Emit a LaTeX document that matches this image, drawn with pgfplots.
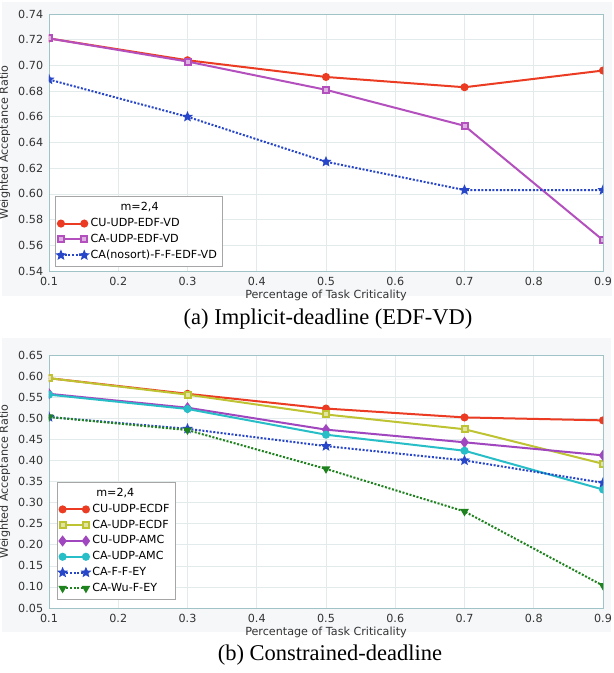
\documentclass[border=0pt]{standalone}
\usepackage{pgfplots}
\pgfplotsset{compat=1.18}
\usepackage{fontspec}
\setmainfont{DejaVu Sans}
\newfontfamily\capfont{Liberation Serif}

\definecolor{cuRed}{RGB}{235,60,35}
\definecolor{caMag}{RGB}{180,80,190}
\definecolor{nsBlue}{RGB}{40,70,200}
\definecolor{caOlive}{RGB}{190,195,50}
\definecolor{amcPurple}{RGB}{160,70,190}
\definecolor{amcCyan}{RGB}{40,190,200}
\definecolor{wuGreen}{RGB}{30,130,30}
\definecolor{frameC}{RGB}{160,195,200}
\definecolor{gridC}{RGB}{226,234,236}
\definecolor{panelC}{RGB}{246,247,249}

% filled five-point star, like matplotlib's '*'
\pgfdeclareplotmark{fstar}{%
  \pgfpathmoveto{\pgfpointpolar{90}{\pgfplotmarksize}}%
  \pgfpathlineto{\pgfpointpolar{126}{0.45*\pgfplotmarksize}}%
  \pgfpathlineto{\pgfpointpolar{162}{\pgfplotmarksize}}%
  \pgfpathlineto{\pgfpointpolar{198}{0.45*\pgfplotmarksize}}%
  \pgfpathlineto{\pgfpointpolar{234}{\pgfplotmarksize}}%
  \pgfpathlineto{\pgfpointpolar{270}{0.45*\pgfplotmarksize}}%
  \pgfpathlineto{\pgfpointpolar{306}{\pgfplotmarksize}}%
  \pgfpathlineto{\pgfpointpolar{342}{0.45*\pgfplotmarksize}}%
  \pgfpathlineto{\pgfpointpolar{18}{\pgfplotmarksize}}%
  \pgfpathlineto{\pgfpointpolar{54}{0.45*\pgfplotmarksize}}%
  \pgfpathclose
  \pgfusepathqfillstroke}

\newcommand{\smallfont}{\fontsize{6.7}{8}\selectfont}

\pgfplotsset{
  wa/.style={
    scale only axis,
    width=332.4pt,
    xmin=0.1, xmax=0.9,
    xtick={0.1,0.2,0.3,0.4,0.5,0.6,0.7,0.8,0.9},
    grid=major,
    grid style={gridC, line width=0.4pt},
    axis line style={frameC},
    tick style={draw=none},
    axis background/.style={fill=white},
    clip marker paths=true,
    /pgf/number format/assume math mode=true,
    tick label style={font=\smallfont, text=black!80},
    xticklabel style={/pgf/number format/.cd, fixed, fixed zerofill, precision=1},
    yticklabel style={/pgf/number format/.cd, fixed, fixed zerofill, precision=2},
    xlabel={Percentage of Task Criticality},
    ylabel={Weighted Acceptance Ratio},
    label style={font=\smallfont, text=black!80},
    xlabel style={yshift=4pt},
    ylabel style={yshift=-2pt},
    legend style={font=\smallfont, draw=gray!70, fill=white, inner sep=1.5pt,
      row sep=-1pt, legend cell align=left},
    legend image code/.code={
      \draw[mark repeat=2,mark phase=1,#1] plot coordinates {(0pt,0pt) (7pt,0pt) (14pt,0pt)};},
    every axis plot/.append style={line width=1.2pt, mark size=1.8pt},
  },
}

\begin{document}
\begin{tikzpicture}
\useasboundingbox (0pt,0pt) rectangle (367.8pt,-403.8pt);
\fill[panelC] (1pt,-1pt) rectangle (367pt,-177.6pt);
\fill[panelC] (1.2pt,-202.8pt) rectangle (366.6pt,-379.2pt);

% (a) implicit-deadline
\begin{axis}[wa,
  at={(29.4pt,-162.6pt)}, anchor=south west,
  height=154.2pt,
  ymin=0.54, ymax=0.74,
  ytick={0.54,0.56,0.58,0.60,0.62,0.64,0.66,0.68,0.70,0.72,0.74},
  legend style={at={(0.011,0.016)}, anchor=south west},
]
\addlegendimage{empty legend}
\addlegendentry{\hspace{18pt}m=2,4}
\addplot[cuRed, mark=*, mark options={fill=cuRed}] coordinates {
  (0.1,0.721) (0.3,0.704) (0.5,0.691) (0.7,0.683) (0.9,0.696)};
\addlegendentry{CU-UDP-EDF-VD}
\addplot[caMag, mark=square*, mark options={fill=caMag!45!white}] coordinates {
  (0.1,0.721) (0.3,0.703) (0.5,0.681) (0.7,0.653) (0.9,0.564)};
\addlegendentry{CA-UDP-EDF-VD}
\addplot[nsBlue, dash pattern=on 1.2pt off 1pt, mark=fstar, mark size=1.9pt, mark options={solid, fill=nsBlue}] coordinates {
  (0.1,0.689) (0.3,0.660) (0.5,0.625) (0.7,0.603) (0.9,0.603)};
\addlegendentry{CA(nosort)-F-F-EDF-VD}
\end{axis}
\node[font=\capfont\fontsize{13.5}{16}\selectfont] at (196.8pt,-191.4pt) {(a) Implicit-deadline (EDF-VD)};

% (b) constrained-deadline
\begin{axis}[wa,
  at={(29.4pt,-364.8pt)}, anchor=south west,
  height=151.8pt,
  ymin=0.05, ymax=0.65,
  ytick={0.05,0.10,0.15,0.20,0.25,0.30,0.35,0.40,0.45,0.50,0.55,0.60,0.65},
  legend style={at={(0.014,0.032)}, anchor=south west},
]
\addlegendimage{empty legend}
\addlegendentry{\hspace{2.4pt}m=2,4}
\addplot[cuRed, mark=*, mark options={fill=cuRed}] coordinates {
  (0.1,0.595) (0.3,0.558) (0.5,0.523) (0.7,0.502) (0.9,0.495)};
\addlegendentry{CU-UDP-ECDF}
\addplot[caOlive, mark=square*, mark options={fill=caOlive!45!white}] coordinates {
  (0.1,0.595) (0.3,0.556) (0.5,0.509) (0.7,0.474) (0.9,0.392)};
\addlegendentry{CA-UDP-ECDF}
\addplot[amcPurple, mark=diamond*, mark size=2.4pt, mark options={fill=amcPurple}] coordinates {
  (0.1,0.558) (0.3,0.525) (0.5,0.473) (0.7,0.443) (0.9,0.412)};
\addlegendentry{CU-UDP-AMC}
\addplot[amcCyan, mark=*, mark options={fill=amcCyan}] coordinates {
  (0.1,0.556) (0.3,0.522) (0.5,0.461) (0.7,0.423) (0.9,0.331)};
\addlegendentry{CA-UDP-AMC}
\addplot[nsBlue, dash pattern=on 1.2pt off 1pt, mark=fstar, mark size=1.9pt, mark options={solid, fill=nsBlue}] coordinates {
  (0.1,0.503) (0.3,0.475) (0.5,0.434) (0.7,0.400) (0.9,0.347)};
\addlegendentry{CA-F-F-EY}
\addplot[wuGreen, dash pattern=on 1.2pt off 1pt, mark=triangle*, mark options={solid, rotate=180, fill=wuGreen}] coordinates {
  (0.1,0.503) (0.3,0.472) (0.5,0.380) (0.7,0.279) (0.9,0.103)};
\addlegendentry{CA-Wu-F-EY}
\end{axis}
\node[font=\capfont\fontsize{13.5}{16}\selectfont] at (198pt,-393pt) {(b) Constrained-deadline};
\end{tikzpicture}
\end{document}
